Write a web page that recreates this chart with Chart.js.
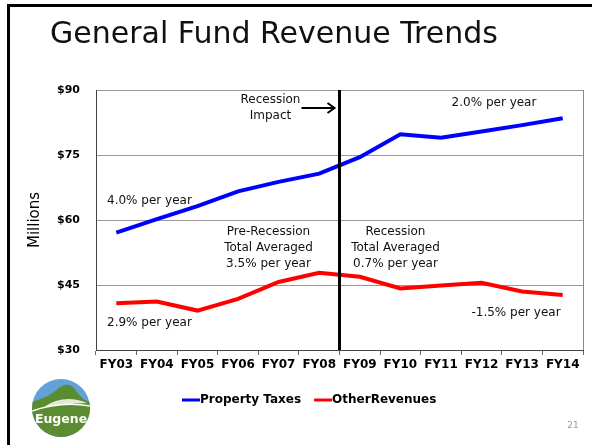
<!DOCTYPE html>
<html>
<head>
<meta charset="utf-8">
<script src="https://cdn.jsdelivr.net/npm/chart.js@4.4.1/dist/chart.umd.min.js"></script>
<style>
  html, body { margin: 0; padding: 0; background: #fff; }
  #wrap { position: relative; width: 592px; height: 445px; }
</style>
</head>
<body>
<div id="wrap"><canvas id="revenue"></canvas></div>
<script>
// data
const years = ["FY03", "FY04", "FY05", "FY06", "FY07", "FY08", "FY09", "FY10", "FY11", "FY12", "FY13", "FY14"];
const propertyTaxes = [57.1, 60.2, 63.2, 66.6, 68.8, 70.7, 74.5, 79.8, 79.0, 80.4, 81.9, 83.5];
const otherRevenues = [40.8, 41.2, 39.1, 41.8, 45.7, 47.8, 46.9, 44.2, 44.9, 45.5, 43.5, 42.7];
const yTicks = [30, 45, 60, 75, 90];
const seriesNames = ["Property Taxes", "OtherRevenues"];
const slideTitle = "General Fund Revenue Trends";
const recessionAfter = "FY08";

const FONT = '"DejaVu Sans", Verdana, sans-serif';

function drawLogo(ctx, cx, cy, r) {
  ctx.save();
  ctx.beginPath();
  ctx.arc(cx, cy, r, 0, Math.PI * 2);
  ctx.clip();
  ctx.fillStyle = "#62a2d8";
  ctx.fillRect(cx - r, cy - r, 2 * r, 2 * r);
  // green hills
  ctx.fillStyle = "#5b8c31";
  ctx.beginPath();
  ctx.moveTo(cx - r, cy - 6);
  ctx.bezierCurveTo(cx - r * 0.7, cy - 9, cx - r * 0.4, cy - 12, cx - r * 0.15, cy - 18);
  ctx.bezierCurveTo(cx + r * 0.05, cy - r * 0.85, cx + r * 0.35, cy - r * 0.9, cx + r * 0.55, cy - 16);
  ctx.bezierCurveTo(cx + r * 0.7, cy - 10, cx + r * 0.85, cy - 7, cx + r, cy - 6);
  ctx.lineTo(cx + r, cy + r);
  ctx.lineTo(cx - r, cy + r);
  ctx.closePath();
  ctx.fill();
  // light valley band
  ctx.fillStyle = "#dfe9d3";
  ctx.beginPath();
  ctx.moveTo(cx - r * 0.6, cy - 1);
  ctx.quadraticCurveTo(cx + r * 0.1, cy - r * 0.5, cx + r * 0.9, cy - 5);
  ctx.quadraticCurveTo(cx + r * 0.2, cy - r * 0.15, cx - r * 0.6, cy - 1);
  ctx.fill();
  ctx.strokeStyle = "#fff";
  ctx.lineWidth = 1.4;
  ctx.beginPath();
  ctx.moveTo(cx - r, cy + 3);
  ctx.quadraticCurveTo(cx, cy - r * 0.25, cx + r, cy - 2);
  ctx.stroke();
  ctx.fillStyle = "#fff";
  ctx.font = "bold 12.5px " + FONT;
  ctx.textAlign = "center";
  ctx.textBaseline = "middle";
  ctx.fillText("Eugene", cx, cy + r * 0.42);
  ctx.restore();
}

const slideDecor = {
  id: "slideDecor",
  beforeDraw(chart) {
    const ctx = chart.ctx;
    ctx.save();
    // slide frame (left and top)
    ctx.fillStyle = "#000";
    ctx.fillRect(7, 4, 3, 441);
    ctx.fillRect(7, 4, 585, 3);
    // title
    ctx.fillStyle = "#111";
    ctx.font = "30px " + FONT;
    ctx.textAlign = "left";
    ctx.textBaseline = "alphabetic";
    ctx.fillText(slideTitle, 50, 43);
    // page number
    ctx.fillStyle = "#999";
    ctx.font = "9px " + FONT;
    ctx.textAlign = "center";
    ctx.fillText("21", 573, 428);
    ctx.restore();
    drawLogo(ctx, 61, 408, 29);
  },
  beforeDatasetsDraw(chart) {
    const { ctx, chartArea: a } = chart;
    ctx.save();
    ctx.strokeStyle = "#888";
    ctx.lineWidth = 1;
    ctx.beginPath();
    ctx.moveTo(Math.round(a.right) + 0.5, a.top);
    ctx.lineTo(Math.round(a.right) + 0.5, a.bottom);
    ctx.stroke();
    ctx.restore();
  },
  afterDatasetsDraw(chart) {
    const { ctx, chartArea: a, scales } = chart;
    const xs = scales.x;
    const i = years.indexOf(recessionAfter);
    const xr = (xs.getPixelForValue(i) + xs.getPixelForValue(i + 1)) / 2;
    ctx.save();
    // recession divider
    ctx.strokeStyle = "#000";
    ctx.lineWidth = 3;
    ctx.beginPath();
    ctx.moveTo(xr, a.top);
    ctx.lineTo(xr, a.bottom);
    ctx.stroke();
    // arrow to the divider
    ctx.lineWidth = 2;
    ctx.beginPath();
    ctx.moveTo(xr - 38, a.top + 18);
    ctx.lineTo(xr - 5, a.top + 18);
    ctx.moveTo(xr - 12, a.top + 13);
    ctx.lineTo(xr - 5, a.top + 18);
    ctx.lineTo(xr - 12, a.top + 23);
    ctx.stroke();

    ctx.fillStyle = "#111";
    ctx.font = "12px " + FONT;
    ctx.textBaseline = "middle";
    ctx.textAlign = "center";
    const lines = (arr, x, y) => arr.forEach((t, k) => ctx.fillText(t, x, y + k * 16));
    lines(["Recession", "Impact"], xr - 69, a.top + 10);
    lines(["Pre-Recession", "Total Averaged", "3.5% per year"], xr - 71, a.top + 142);
    lines(["Recession", "Total Averaged", "0.7% per year"], xr + 56, a.top + 142);
    ctx.fillText("2.0% per year", a.right - 89, a.top + 13);
    ctx.fillText("-1.5% per year", a.right - 67, a.top + 223);
    ctx.textAlign = "left";
    ctx.fillText("4.0% per year", a.left + 11, a.top + 111);
    ctx.fillText("2.9% per year", a.left + 11, a.top + 233);
    ctx.restore();
  },
  afterDraw(chart) {
    // legend, drawn from the dataset styles
    const ctx = chart.ctx;
    ctx.save();
    ctx.font = "bold 12px " + FONT;
    ctx.textBaseline = "middle";
    ctx.textAlign = "left";
    let x = 182;
    const y = 400;
    chart.data.datasets.forEach(ds => {
      ctx.strokeStyle = ds.borderColor;
      ctx.lineWidth = 3;
      ctx.beginPath();
      ctx.moveTo(x, y);
      ctx.lineTo(x + 18, y);
      ctx.stroke();
      ctx.fillStyle = "#000";
      ctx.fillText(ds.label, x + 18, y);
      x += 18 + ctx.measureText(ds.label).width + 13;
    });
    ctx.restore();
  }
};

new Chart(document.getElementById("revenue"), {
  type: "line",
  data: {
    labels: years,
    datasets: [{
      label: seriesNames[0],
      data: propertyTaxes,
      borderColor: "#0000ff",
      backgroundColor: "#0000ff",
      borderWidth: 4,
      pointRadius: 0,
      tension: 0,
      fill: false
    }, {
      label: seriesNames[1],
      data: otherRevenues,
      borderColor: "#ff0000",
      backgroundColor: "#ff0000",
      borderWidth: 4,
      pointRadius: 0,
      tension: 0,
      fill: false
    }]
  },
  options: {
    responsive: true,
    maintainAspectRatio: false,
    animation: false,
    layout: { padding: { top: 90, right: 9, left: 0, bottom: 0 } },
    plugins: {
      legend: { display: false },
      tooltip: { enabled: false }
    },
    scales: {
      x: {
        offset: true,
        grid: { offset: true, drawOnChartArea: false, tickLength: 5, color: "#666" },
        border: { color: "#444" },
        ticks: { color: "#000", font: { family: FONT, size: 12, weight: "bold" }, padding: 3, maxRotation: 0, autoSkip: false },
        afterFit(s) { s.height = 95; }
      },
      y: {
        min: yTicks[0],
        max: yTicks[yTicks.length - 1],
        afterBuildTicks(s) { s.ticks = yTicks.map(v => ({ value: v })); },
        grid: { color: "#999", drawTicks: false },
        border: { color: "#444" },
        ticks: {
          color: "#000",
          padding: 16,
          font: { family: FONT, size: 11, weight: "bold" },
          callback: v => "$" + v
        },
        title: {
          display: true,
          text: "Millions",
          color: "#000",
          font: { family: FONT, size: 15 },
          padding: { top: 26, bottom: 0 }
        },
        afterFit(s) { s.width = 96; }
      }
    }
  },
  plugins: [slideDecor]
});
</script>
</body>
</html>
